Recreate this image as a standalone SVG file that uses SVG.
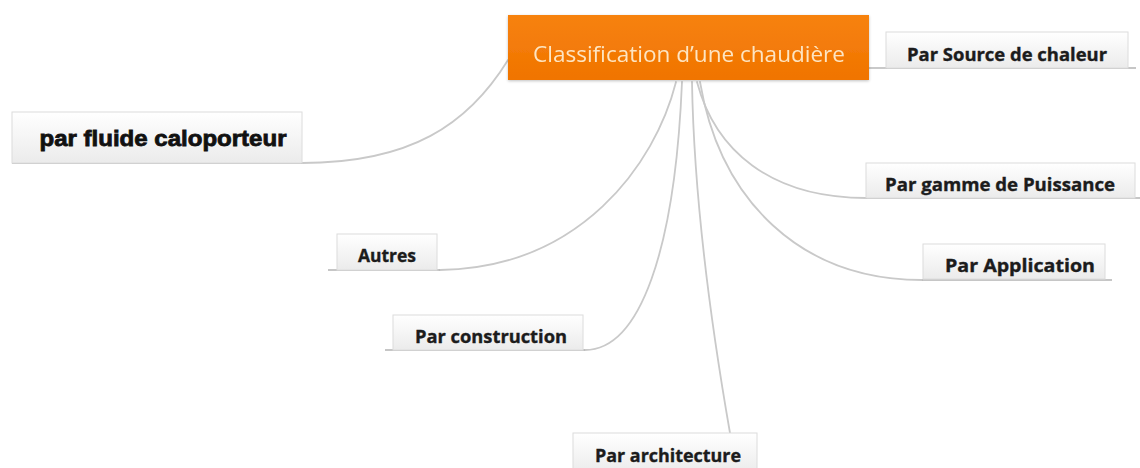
<svg xmlns="http://www.w3.org/2000/svg" width="1140" height="468" viewBox="0 0 1140 468">
  <defs>
    <linearGradient id="topicFill" x1="0" y1="0" x2="0" y2="1">
      <stop offset="0" stop-color="#ffffff"/>
      <stop offset="1" stop-color="#ebebeb"/>
    </linearGradient>
    <linearGradient id="centralFill" x1="0" y1="0" x2="0" y2="1">
      <stop offset="0" stop-color="#f7820f"/>
      <stop offset="1" stop-color="#f07400"/>
    </linearGradient>
    <filter id="soft" x="-10%" y="-20%" width="120%" height="150%">
      <feGaussianBlur in="SourceAlpha" stdDeviation="1.5"/>
      <feOffset dx="0" dy="1" result="b"/>
      <feComponentTransfer><feFuncA type="linear" slope="0.25"/></feComponentTransfer>
      <feMerge><feMergeNode/><feMergeNode in="SourceGraphic"/></feMerge>
    </filter>
    <style>
      .topic rect { fill: url(#topicFill); stroke: #dcdcdc; stroke-width: 1; }
      .label { font-family: "Open Sans", "Noto Sans", "Liberation Sans", sans-serif; font-weight: 700; font-size: 17px; fill: #1c1c1c; stroke: #1c1c1c; stroke-width: 0.35; text-anchor: middle; }
      .conn { fill: none; stroke: #c9c9c9; stroke-width: 1.8; stroke-linecap: round; }
      .base { fill: none; stroke: #b3b3b3; stroke-width: 1.6; }
    </style>
  </defs>

  <rect width="1140" height="468" fill="#ffffff"/>

  <!-- branches from the central topic -->
  <g id="connectors">
    <path class="conn" d="M302,163 C410,163 468,125 508,60"/>
    <path class="conn" d="M440,270 C580,268 655,165 676,82"/>
    <path class="conn" d="M585,350 C640,350 675,250 682,82"/>
    <path class="conn" d="M692,82 C694,200 712,330 730,433"/>
    <path class="conn" d="M697,82 C715,150 770,198 866,198"/>
    <path class="conn" d="M700,82 C720,200 800,280 922,280"/>
    <path class="conn" d="M869,68 H886"/>
    <!-- lines running under each topic -->
    <path class="base" d="M12,163 H302"/>
    <path class="base" d="M328,270 H440"/>
    <path class="base" d="M385,350 H585"/>
    <path class="base" d="M886,68 H1136"/>
    <path class="base" d="M866,198 H1140"/>
    <path class="base" d="M922,280 H1112"/>
  </g>

  <g id="central" filter="url(#soft)">
    <rect x="508" y="15" width="361" height="65" fill="url(#centralFill)"/>
    <text x="689" y="62" font-family="'Open Sans', 'Noto Sans', 'Liberation Sans', sans-serif" font-size="21" fill="#fde5c2" text-anchor="middle" textLength="312" lengthAdjust="spacingAndGlyphs">Classification d’une chaudière</text>
  </g>

  <g id="fluide" class="topic">
    <rect x="12" y="112" width="290" height="51"/>
    <text x="163" y="146" font-family="'Liberation Sans', Arial, sans-serif" font-weight="700" font-size="22" fill="#111111" stroke="#111111" stroke-width="0.8" text-anchor="middle" textLength="247" lengthAdjust="spacingAndGlyphs">par fluide caloporteur</text>
  </g>

  <g id="autres" class="topic">
    <rect x="337" y="234" width="100" height="36"/>
    <text class="label" x="387" y="262" textLength="58" lengthAdjust="spacingAndGlyphs">Autres</text>
  </g>

  <g id="construction" class="topic">
    <rect x="393" y="315" width="190" height="35"/>
    <text class="label" x="491" y="343" textLength="152" lengthAdjust="spacingAndGlyphs">Par construction</text>
  </g>

  <g id="architecture" class="topic">
    <rect x="573" y="433" width="184" height="40"/>
    <text class="label" x="668" y="462" textLength="146" lengthAdjust="spacingAndGlyphs">Par architecture</text>
  </g>

  <g id="source" class="topic">
    <rect x="886" y="32" width="242" height="36"/>
    <text class="label" x="1007" y="61" textLength="200" lengthAdjust="spacingAndGlyphs">Par Source de chaleur</text>
  </g>

  <g id="puissance" class="topic">
    <rect x="866" y="163" width="269" height="35"/>
    <text class="label" x="1000" y="191" textLength="230" lengthAdjust="spacingAndGlyphs">Par gamme de Puissance</text>
  </g>

  <g id="application" class="topic">
    <rect x="923" y="244" width="182" height="35"/>
    <text class="label" x="1020" y="272" textLength="150" lengthAdjust="spacingAndGlyphs">Par Application</text>
  </g>
</svg>
